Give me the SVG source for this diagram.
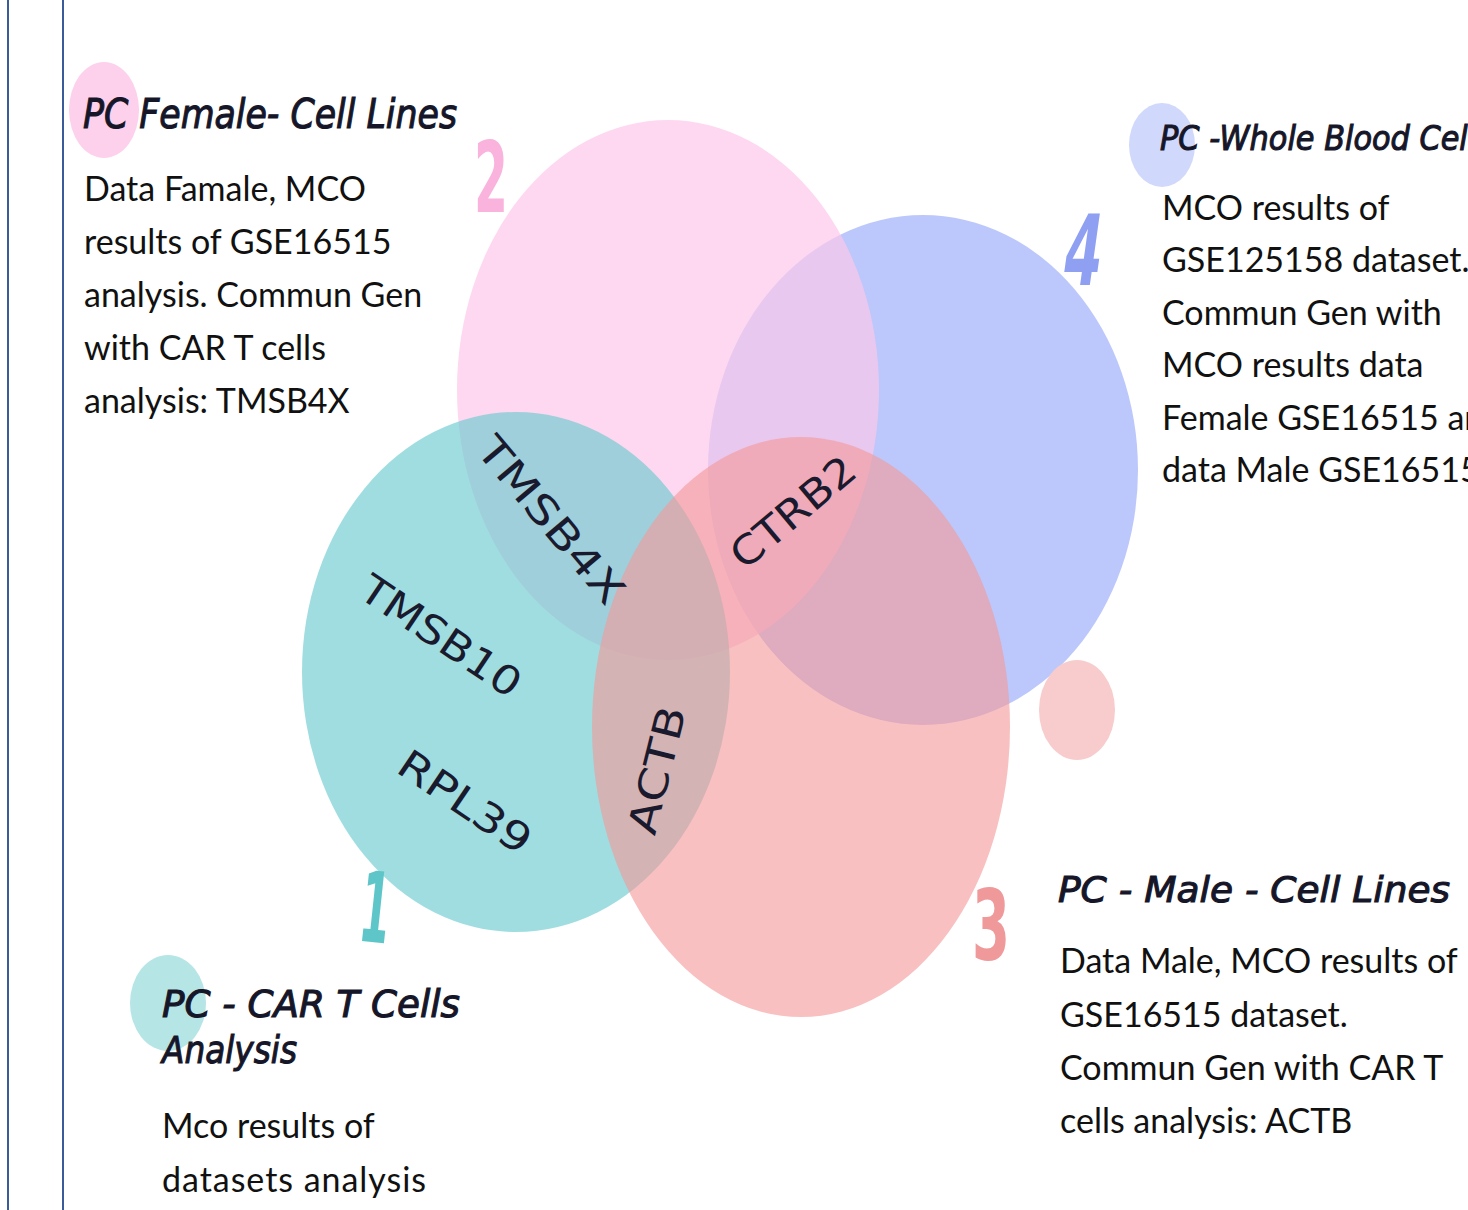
<svg xmlns="http://www.w3.org/2000/svg" width="1468" height="1210" viewBox="0 0 1468 1210">
<style>
.head{font-family:"DejaVu Sans",sans-serif;font-style:oblique;font-weight:normal;fill:#161629;stroke:#161629;stroke-width:1.1}
.body{font-family:Lato,"Liberation Sans",sans-serif;font-size:34px;fill:#111}
.gene{font-family:"DejaVu Sans",sans-serif;font-size:40px;fill:#1a1a2e;text-anchor:middle;dominant-baseline:central}
.num{font-family:"DejaVu Sans",sans-serif;font-weight:bold;font-size:98px;text-anchor:middle}
.frame{stroke:#3b5a9a;stroke-width:2}
</style>
<rect width="1468" height="1210" fill="#fff"/>
<line class="frame" x1="8" y1="0" x2="8" y2="1210"/>
<line class="frame" x1="63" y1="0" x2="63" y2="1210"/>

<g id="venn">
  <ellipse id="set4" cx="923" cy="470" rx="215" ry="255" fill="#bcc8fb"/>
  <ellipse id="set2" cx="668" cy="390" rx="211" ry="270" fill="#fcc7ea" fill-opacity="0.7"/>
  <ellipse id="set1" cx="516" cy="672" rx="214" ry="260" fill="#6dcbcf" fill-opacity="0.65"/>
  <ellipse id="set3" cx="801" cy="727" rx="209" ry="290" fill="#f49999" fill-opacity="0.62"/>
  <ellipse cx="1077" cy="710" rx="38" ry="50" fill="#f8cccc"/>
</g>

<g id="genes">
  <text class="gene" x="551" y="520" textLength="205" lengthAdjust="spacingAndGlyphs" transform="rotate(50 551 520)">TMSB4X</text>
  <text class="gene" x="793" y="512" textLength="150" lengthAdjust="spacingAndGlyphs" transform="rotate(-40 793 512)">CTRB2</text>
  <text class="gene" x="441" y="636" textLength="185" lengthAdjust="spacingAndGlyphs" transform="rotate(34 441 636)">TMSB10</text>
  <text class="gene" x="465" y="802" textLength="152" lengthAdjust="spacingAndGlyphs" transform="rotate(34 465 802)">RPL39</text>
  <text class="gene" x="657" y="770" textLength="130" lengthAdjust="spacingAndGlyphs" transform="rotate(-76 657 770)">ACTB</text>
</g>

<g id="numbers">
  <text class="num" x="491" y="212" fill="#f9b3dd" textLength="34" lengthAdjust="spacingAndGlyphs">2</text>
  <text class="num" x="1079" y="285" fill="#8fa0f2" textLength="38" lengthAdjust="spacingAndGlyphs" transform="translate(1079 285) skewX(-8) translate(-1079 -285)">4</text>
  <text class="num" x="372" y="942" fill="#5ec6c8" textLength="30" lengthAdjust="spacingAndGlyphs" transform="rotate(6 372 942)">1</text>
  <text class="num" x="991" y="960" fill="#f0999b" textLength="38" lengthAdjust="spacingAndGlyphs">3</text>
</g>

<g id="node-female">
  <ellipse cx="104" cy="110" rx="35" ry="48" fill="#fdd0ec"/>
  <text class="head" x="83" y="128" font-size="40" textLength="374" lengthAdjust="spacingAndGlyphs">PC Female-  Cell Lines</text>
  <text class="body" x="84" y="201">Data Famale, MCO</text>
  <text class="body" x="84" y="254">results of GSE16515</text>
  <text class="body" x="84" y="307">analysis. Commun Gen</text>
  <text class="body" x="84" y="360">with CAR T cells</text>
  <text class="body" x="84" y="413">analysis: TMSB4X</text>
</g>

<g id="node-blood">
  <ellipse cx="1162" cy="145" rx="33" ry="42" fill="#d0d8fb"/>
  <text class="head" x="1160" y="150" font-size="33" textLength="332" lengthAdjust="spacingAndGlyphs">PC  -Whole Blood Cells</text>
  <text class="body" x="1162" y="220">MCO results of</text>
  <text class="body" x="1162" y="272">GSE125158 dataset.</text>
  <text class="body" x="1162" y="325">Commun Gen with</text>
  <text class="body" x="1162" y="377">MCO results data</text>
  <text class="body" x="1162" y="430">Female GSE16515 and</text>
  <text class="body" x="1162" y="482">data Male GSE16515</text>
</g>

<g id="node-male">
  <text class="head" x="1058" y="902" font-size="36" textLength="392" lengthAdjust="spacingAndGlyphs">PC  -  Male  -  Cell  Lines</text>
  <text class="body" x="1060" y="973">Data Male, MCO results of</text>
  <text class="body" x="1060" y="1027">GSE16515 dataset.</text>
  <text class="body" x="1060" y="1080">Commun Gen with CAR T</text>
  <text class="body" x="1060" y="1133">cells analysis: ACTB</text>
</g>

<g id="node-cart">
  <ellipse cx="168" cy="1003" rx="38" ry="48" fill="#b6e5e6"/>
  <text class="head" x="162" y="1017" font-size="37" textLength="298" lengthAdjust="spacingAndGlyphs">PC  -  CAR  T  Cells</text>
  <text class="head" x="162" y="1063" font-size="37" textLength="135" lengthAdjust="spacingAndGlyphs">Analysis</text>
  <text class="body" x="162" y="1138">Mco results of</text>
  <text class="body" x="162" y="1192" textLength="264">datasets analysis</text>
</g>

<g id="connectors"/>
</svg>
